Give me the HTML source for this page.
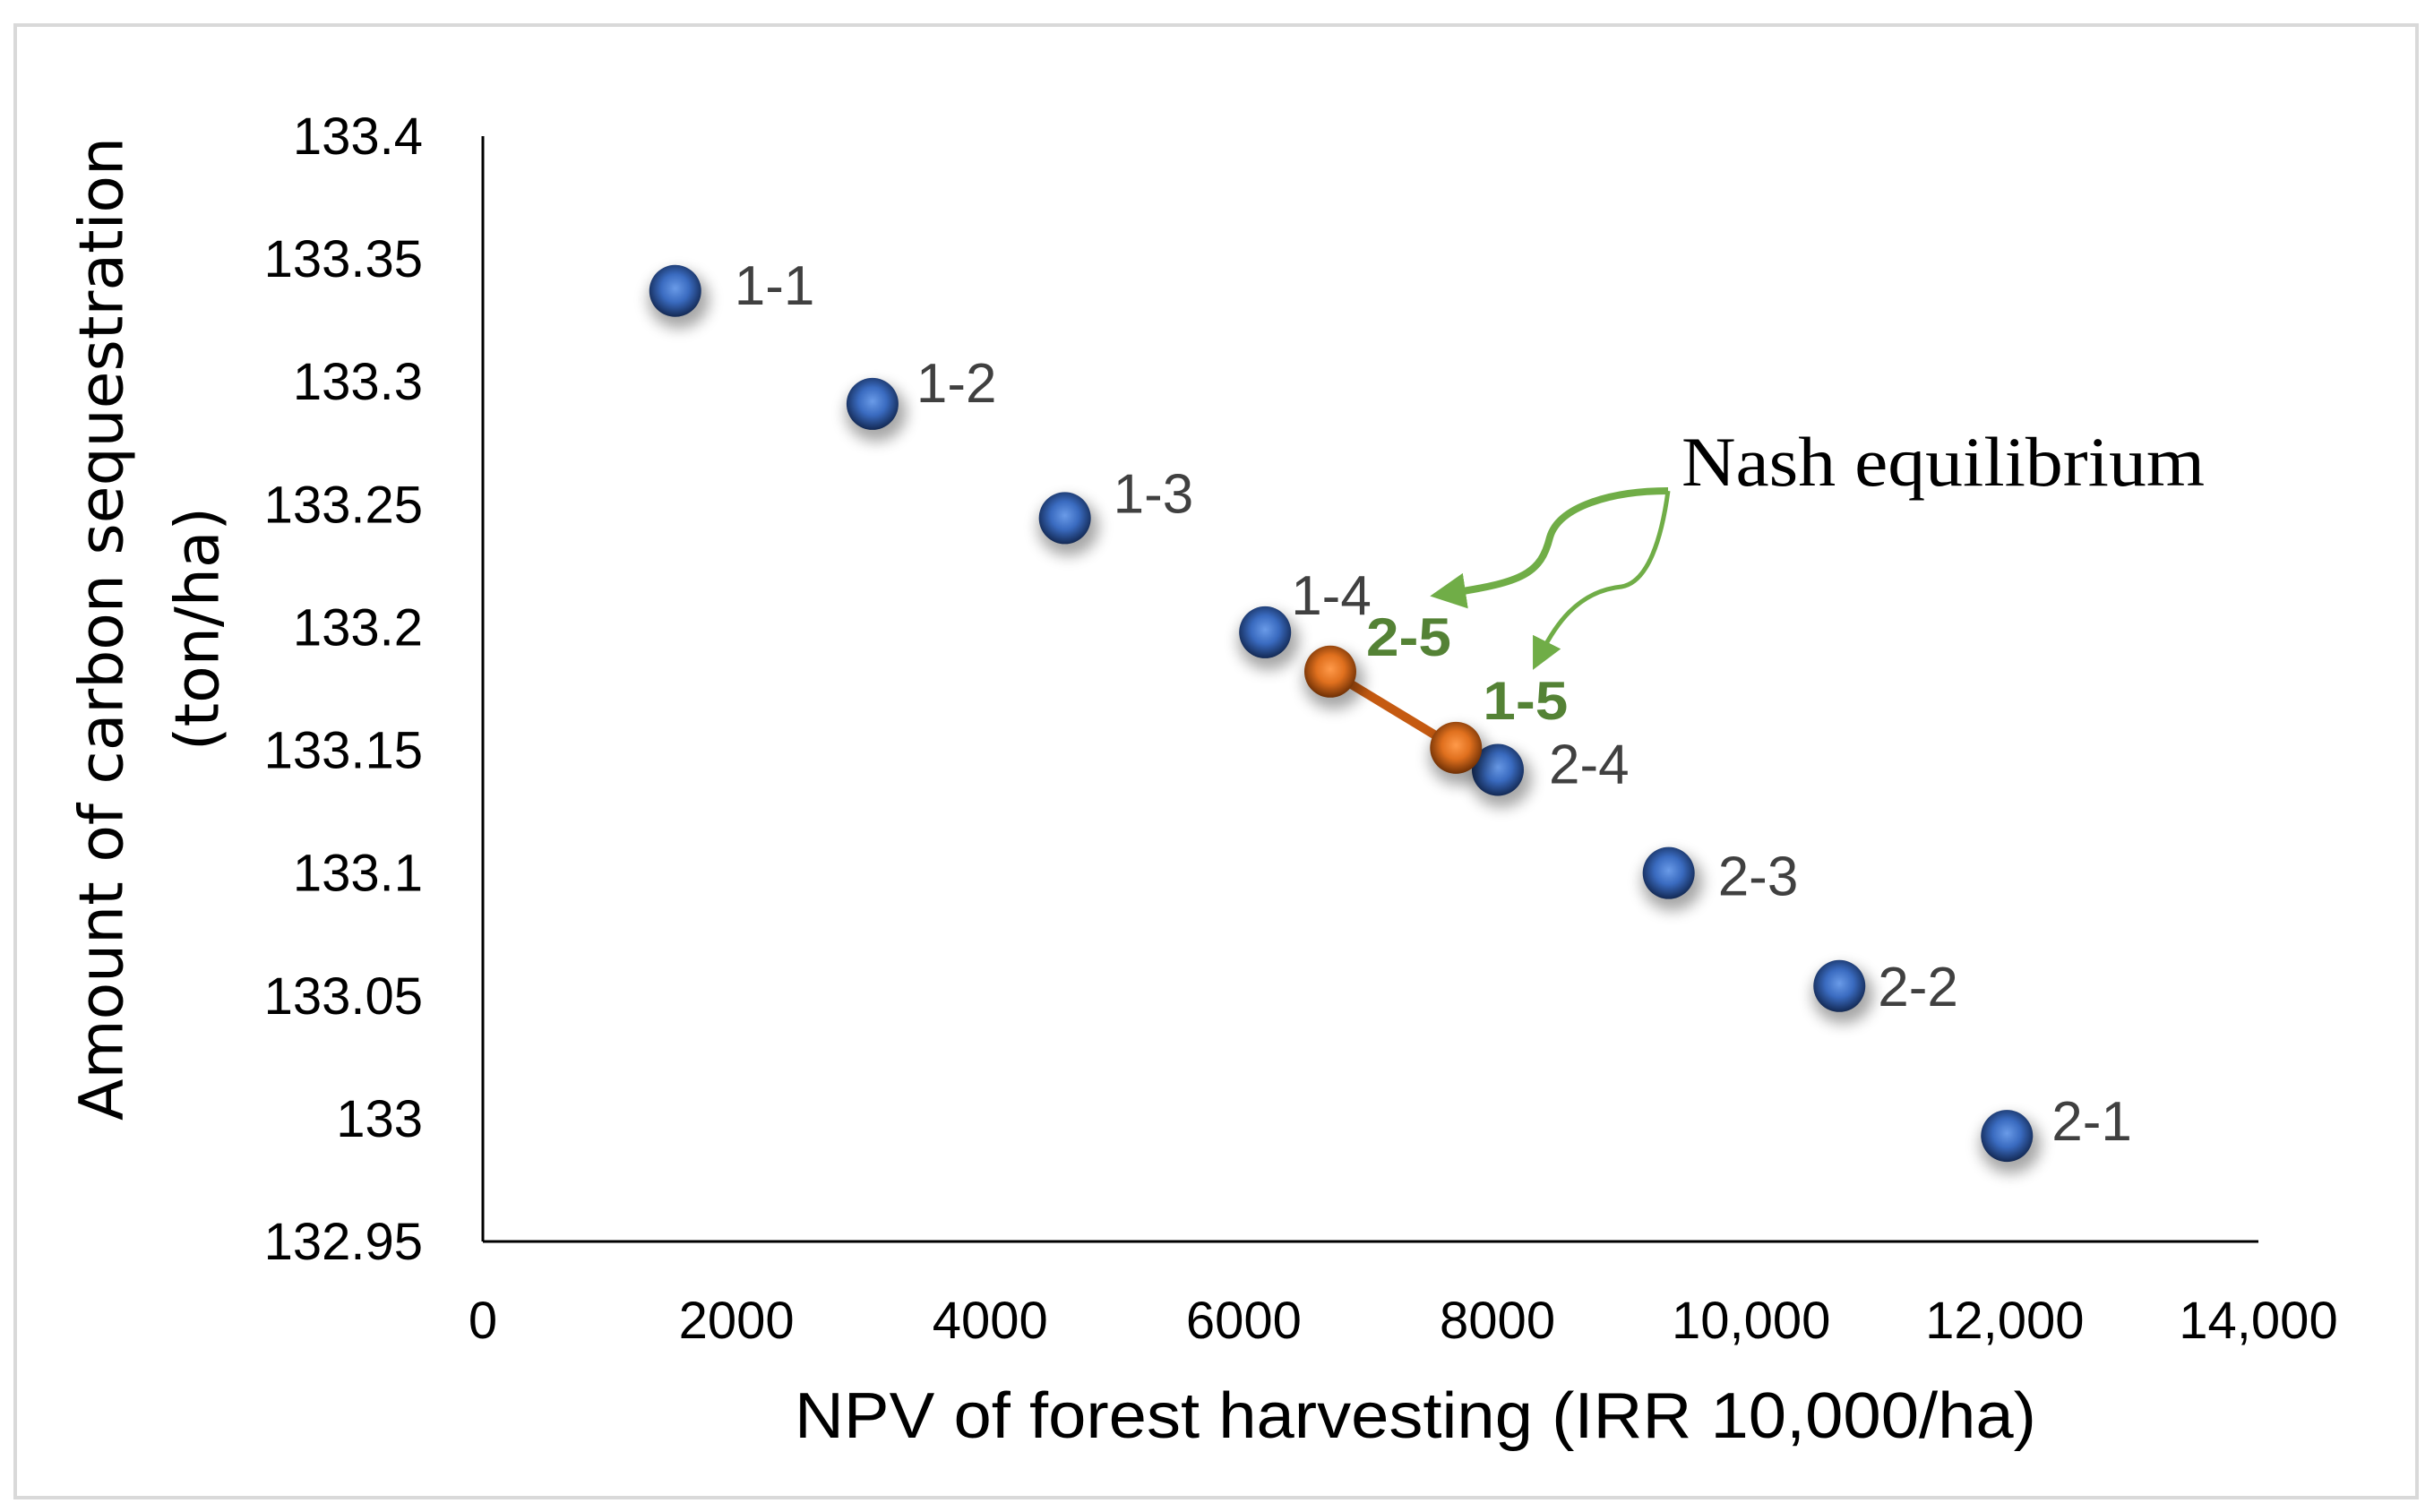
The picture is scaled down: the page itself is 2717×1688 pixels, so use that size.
<!DOCTYPE html>
<html><head><meta charset="utf-8"><style>
html,body{margin:0;padding:0;background:#fff;}
svg{display:block;}
</style></head><body>
<svg id="chart" width="2717" height="1688" viewBox="0 0 2717 1688" xmlns="http://www.w3.org/2000/svg">
<defs>
<radialGradient id="blue" cx="0.5" cy="0.45" r="0.6">
<stop offset="0" stop-color="#6a9be8"/><stop offset="0.45" stop-color="#3a6bc0"/><stop offset="1" stop-color="#0c1d40"/>
</radialGradient>
<radialGradient id="orange" cx="0.5" cy="0.45" r="0.6">
<stop offset="0" stop-color="#ff9a4a"/><stop offset="0.45" stop-color="#e0701e"/><stop offset="1" stop-color="#5a2400"/>
</radialGradient>
<filter id="sh" x="-1" y="-1" width="3" height="3"><feGaussianBlur stdDeviation="8"/></filter>
<marker id="ah" markerWidth="5" markerHeight="5" refX="2" refY="2.5" orient="auto" markerUnits="strokeWidth"><path d="M0,0 L5,2.5 L0,5 Z" fill="#70ad47"/></marker>
<marker id="ah2" markerWidth="7" markerHeight="7" refX="3" refY="3.5" orient="auto" markerUnits="strokeWidth"><path d="M0,0 L7,3.5 L0,7 Z" fill="#70ad47"/></marker>
</defs>
<rect x="17" y="28" width="2681" height="1644" fill="#fff" stroke="#d9d9d9" stroke-width="4"/>
<g id="axes"></g>
<g id="marks"></g>
<text x="1877" y="542" font-family="Liberation Serif, serif" font-size="78" textLength="584" lengthAdjust="spacingAndGlyphs" fill="#000">Nash equilibrium</text>
<path d="M1862,548 C1800,548 1740,565 1730,600 C1720,640 1700,650 1620,662" fill="none" stroke="#70ad47" stroke-width="8" marker-end="url(#ah)"/>
<path d="M1862,548 C1855,600 1840,650 1810,655 C1760,660 1735,700 1720,730" fill="none" stroke="#70ad47" stroke-width="5" marker-end="url(#ah2)"/>
<text x="118" y="702" transform="rotate(-90 118 702)" text-anchor="middle" dominant-baseline="middle" font-family="DejaVu Sans, sans-serif" font-size="68" textLength="1098" lengthAdjust="spacingAndGlyphs" fill="#000">Amount of carbon sequestration</text>
<text x="225" y="702" transform="rotate(-90 225 702)" text-anchor="middle" dominant-baseline="middle" font-family="DejaVu Sans, sans-serif" font-size="68" fill="#000">(ton/ha)</text>
<text x="1580" y="1605" text-anchor="middle" font-family="Liberation Sans, sans-serif" font-size="72" textLength="1386" lengthAdjust="spacingAndGlyphs" fill="#000">NPV of forest harvesting  (IRR 10,000/ha)</text>
</svg>
<script>
const seriesLabels = ["1-1","1-2","1-3","1-4","2-4","2-3","2-2","2-1"];
const seriesX = [1517,3072,4589,6168,8003,9350,10696,12017];
const seriesY = [133.337,133.291,133.2445,133.198,133.142,133.100,133.054,132.993];
const nashLabels = ["2-5","1-5"];
const nashX = [6682,7673];
const nashY = [133.182,133.151];
const xTicks = [0,2000,4000,6000,8000,10000,12000,14000];
const xTickLabels = ["0","2000","4000","6000","8000","10,000","12,000","14,000"];
const yTicks = [132.95,133,133.05,133.1,133.15,133.2,133.25,133.3,133.35,133.4];
const yTickLabels = ["132.95","133","133.05","133.1","133.15","133.2","133.25","133.3","133.35","133.4"];

const NS="http://www.w3.org/2000/svg";
const X0=539,X1=2521,Y0=1386,Y1=152;
function sx(v){return X0+(v-0)/(14000-0)*(X1-X0);}
function sy(v){return Y0-(v-132.95)/(133.4-132.95)*(Y0-Y1);}
function mk(tag,attrs,parent){const e=document.createElementNS(NS,tag);for(const k in attrs)e.setAttribute(k,attrs[k]);parent.appendChild(e);return e;}
const axes=document.getElementById('axes'),marks=document.getElementById('marks');
let el=mk('line',{x1:X0,y1:Y1,x2:X0,y2:Y0,stroke:'#000','stroke-width':3},axes);


el=mk('line',{x1:X0,y1:Y0,x2:X1,y2:Y0,stroke:'#000','stroke-width':3},axes);


yTicks.forEach((t,i)=>{
  const e=mk('text',{x:472,y:sy(t)+20,'text-anchor':'end','font-family':'Liberation Sans, sans-serif','font-size':58,fill:'#000'},axes);
  e.textContent=yTickLabels[i];
  
  
});
xTicks.forEach((t,i)=>{
  const e=mk('text',{x:sx(t),y:1494,'text-anchor':'middle','font-family':'Liberation Sans, sans-serif','font-size':58,fill:'#000'},axes);
  e.textContent=xTickLabels[i];
  
  
});
function sphere(x,y,grad,name){
  const s=mk('ellipse',{cx:x+4,cy:y+10,rx:34,ry:32,fill:'#000',opacity:0.35,filter:'url(#sh)'},marks);
  
  
  const c=mk('circle',{cx:x,cy:y,r:29,fill:'url(#'+grad+')'},marks);
  
  
}
const l=mk('line',{x1:sx(nashX[0]),y1:sy(nashY[0]),x2:sx(nashX[1]),y2:sy(nashY[1]),stroke:'#c55a11','stroke-width':10},marks);


const labOff=[[66,-7],[49,-24],[54,-28],[29,-42],[57,-7],[55,3],[43,0],[50,-17]];
seriesX.forEach((v,i)=>{
  const x=sx(v),y=sy(seriesY[i]);
  sphere(x,y,'blue','point-'+seriesLabels[i]);
  const t=mk('text',{x:x+labOff[i][0],y:y+labOff[i][1]+22,'font-family':'Liberation Sans, sans-serif','font-size':62,fill:'#404040'},marks);
  t.textContent=seriesLabels[i];
  
  
});
nashX.forEach((v,i)=>{
  const x=sx(v),y=sy(nashY[i]);
  sphere(x,y,'orange','nash-point-'+nashLabels[i]);
});
const off=[[40,-18],[30,-32]];
nashX.forEach((v,i)=>{
  const x=sx(v),y=sy(nashY[i]);
  const t=mk('text',{x:x+off[i][0],y:y+off[i][1],'font-family':'Liberation Sans, sans-serif','font-size':60,'font-weight':'bold',textLength:95,lengthAdjust:'spacingAndGlyphs',fill:'#548235'},marks);
  t.textContent=nashLabels[i];
  
  
});
</script>
</body></html>
